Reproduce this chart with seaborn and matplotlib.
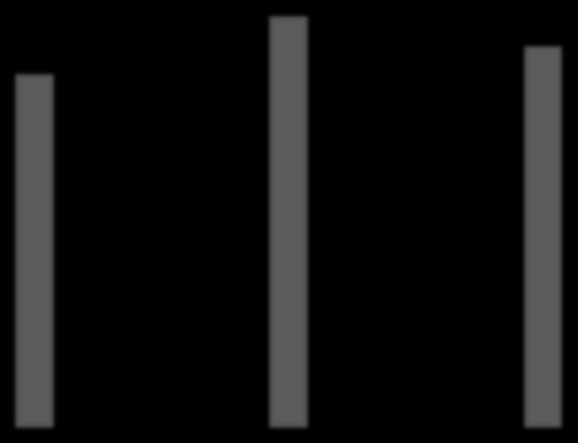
import matplotlib
matplotlib.use("Agg")
import matplotlib.pyplot as plt
import seaborn as sns
import pandas as pd
import numpy as np

categories = ["A", "B", "C"]
values = [356, 414, 384]

df = pd.DataFrame({"cat": categories, "val": values})


def blur_filter(img, dpi, sigma=2.5):
    pad = int(sigma * 3)
    padded = np.pad(img, ((pad, pad), (pad, pad), (0, 0)), mode="constant")
    k = np.arange(-pad, pad + 1)
    kern = np.exp(-0.5 * (k / sigma) ** 2)
    kern /= kern.sum()
    out = padded.copy()
    for c in range(out.shape[2]):
        ch = out[:, :, c]
        ch = np.apply_along_axis(lambda m: np.convolve(m, kern, mode="same"), 0, ch)
        ch = np.apply_along_axis(lambda m: np.convolve(m, kern, mode="same"), 1, ch)
        out[:, :, c] = ch
    return out, -pad, -pad


fig = plt.figure(figsize=(5.78, 4.43), dpi=100, facecolor="black")
ax = fig.add_axes([0, 0, 1, 1])
ax.set_facecolor("black")
sns.barplot(data=df, x="cat", y="val", color="#5b5b5b", saturation=1,
            width=0.161, ax=ax, edgecolor="none")
for p in ax.patches:
    p.set_agg_filter(blur_filter)
ax.set_xlim(-0.1357, 2.1377)
ax.set_ylim(-14, 429)
ax.axis("off")
fig.savefig("out.png", dpi=100, facecolor="black")
